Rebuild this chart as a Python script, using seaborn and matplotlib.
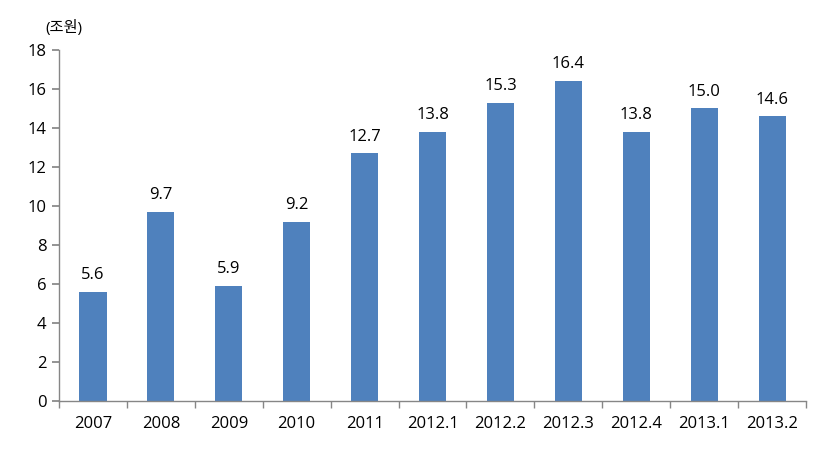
import matplotlib
matplotlib.use("Agg")
import matplotlib.pyplot as plt
import seaborn as sns
import pandas as pd
import numpy as np

categories = ["2007", "2008", "2009", "2010", "2011", "2012.1", "2012.2", "2012.3", "2012.4", "2013.1", "2013.2"]
values = [5.6, 9.7, 5.9, 9.2, 12.7, 13.8, 15.3, 16.4, 13.8, 15.0, 14.6]
y_ticks = [0, 2, 4, 6, 8, 10, 12, 14, 16, 18]
unit_label = "(조원)"

sns.set_theme(style="white")
plt.rcParams['font.family'] = ['Open Sans', 'Noto Sans CJK KR', 'DejaVu Sans']

df = pd.DataFrame({"cat": categories, "val": values})

fig = plt.figure(figsize=(8.32, 4.54), dpi=100)
ax = fig.add_axes([0.0709, 0.1167, 0.8979, 0.7732])
sns.barplot(data=df, x="cat", y="val", color="#4F81BD", saturation=1, width=0.4,
            linewidth=0, ax=ax)

ax.set_xlim(-0.5, len(categories) - 0.5)
ax.set_ylim(0, 18)
ax.set_yticks(y_ticks)
ax.set_xlabel("")
ax.set_ylabel("")
for s in ["top", "right"]:
    ax.spines[s].set_visible(False)
for s in ["left", "bottom"]:
    ax.spines[s].set_color("#868686")
    ax.spines[s].set_linewidth(1)

ax.tick_params(axis="y", which="major", direction="out", length=5, color="#868686", labelsize=12, left=True, pad=4, labelcolor="black")
ax.tick_params(axis="x", which="major", length=0, labelsize=12, pad=11, labelcolor="black")
ax.set_xticks(np.arange(-0.5, len(categories), 1.0), minor=True)
ax.tick_params(axis="x", which="minor", direction="out", length=5, color="#868686", bottom=True)

for i, v in enumerate(values):
    ax.text(i, v + 0.45, f"{v:.1f}", ha="center", va="bottom", fontsize=12, color="black")

fig.text(45 / 832, 1 - 28 / 454, unit_label, ha="left", va="center", fontsize=11, color="black")

fig.savefig("out.png", dpi=100)
